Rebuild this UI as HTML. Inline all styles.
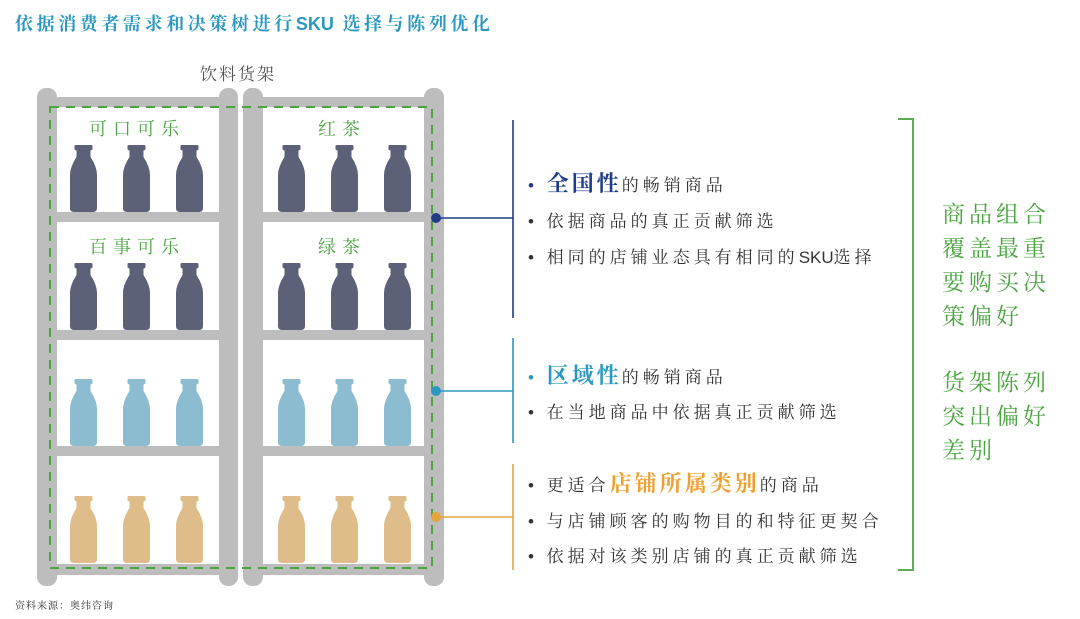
<!DOCTYPE html>
<html><head><meta charset="utf-8"><style>
html,body{margin:0;padding:0;background:#fff;}
body{width:1080px;height:619px;position:relative;overflow:hidden;font-family:"Liberation Sans","Noto Serif CJK SC",serif;}
.t{position:absolute;white-space:nowrap;}
.ln{position:absolute;left:528px;font-size:17px;letter-spacing:4px;color:#333;font-family:"Liberation Sans","Noto Serif CJK SC",serif;line-height:20px;}
.ln b{font-size:22px;letter-spacing:3px;}
.ls0{letter-spacing:0;}
.g{position:absolute;left:942px;font-size:23px;letter-spacing:4px;color:#4aa540;line-height:34px;font-family:"Noto Serif CJK SC",serif;}
.sl{position:absolute;font-size:18px;color:#4aa540;letter-spacing:6px;font-family:'Noto Serif CJK SC',serif;white-space:nowrap;}
</style></head><body>
<div class="t" style="left:15px;top:10px;font-size:18px;font-weight:bold;color:#2a98c0;letter-spacing:3.6px;font-family:'Liberation Sans','Noto Serif CJK SC',serif;">依据消费者需求和决策树进行<span class="ls0">SKU</span> 选择与陈列优化</div>
<div class="t" style="left:200px;top:60px;font-size:17px;color:#555;letter-spacing:2px;font-family:'Noto Serif CJK SC',serif;">饮料货架</div>
<svg width="1080" height="619" style="position:absolute;left:0;top:0">
<defs><path id="b" d="M4.5,1 Q4.5,0 6,0 L21,0 Q22.5,0 22.5,1 L22.5,4 Q22.5,5 20.5,5.5 L20.5,12 Q27,22 27,30 L27,63 Q27,67 23,67 L4,67 Q0,67 0,63 L0,30 Q0,22 6.5,12 L6.5,5.5 Q4.5,5 4.5,4 Z"/></defs>
<g fill="#bdbdbd">
<rect x="37" y="88" width="20" height="498" rx="9"/>
<rect x="219" y="88" width="19" height="498" rx="9"/>
<rect x="243" y="88" width="20" height="498" rx="9"/>
<rect x="424" y="88" width="20" height="498" rx="9"/>
<rect x="37" y="97" width="201" height="10"/><rect x="243" y="97" width="201" height="10"/>
<rect x="37" y="212" width="201" height="10"/><rect x="243" y="212" width="201" height="10"/>
<rect x="37" y="330" width="201" height="10"/><rect x="243" y="330" width="201" height="10"/>
<rect x="37" y="446" width="201" height="10"/><rect x="243" y="446" width="201" height="10"/>
<rect x="37" y="564" width="201" height="11"/><rect x="243" y="564" width="201" height="11"/>
</g>
<g fill="#5d6178">
<use href="#b" x="70" y="145"/><use href="#b" x="123" y="145"/><use href="#b" x="176" y="145"/>
<use href="#b" x="278" y="145"/><use href="#b" x="331" y="145"/><use href="#b" x="384" y="145"/>
<use href="#b" x="70" y="263"/><use href="#b" x="123" y="263"/><use href="#b" x="176" y="263"/>
<use href="#b" x="278" y="263"/><use href="#b" x="331" y="263"/><use href="#b" x="384" y="263"/>
</g>
<g fill="#8bbccf">
<use href="#b" x="70" y="379"/><use href="#b" x="123" y="379"/><use href="#b" x="176" y="379"/>
<use href="#b" x="278" y="379"/><use href="#b" x="331" y="379"/><use href="#b" x="384" y="379"/>
</g>
<g fill="#dfbd8a">
<use href="#b" x="70" y="496"/><use href="#b" x="123" y="496"/><use href="#b" x="176" y="496"/>
<use href="#b" x="278" y="496"/><use href="#b" x="331" y="496"/><use href="#b" x="384" y="496"/>
</g>
<rect x="50" y="107" width="382" height="461" fill="none" stroke="#4aa540" stroke-width="2" stroke-dasharray="9,7"/>
<g stroke-width="1.6" fill="none">
<path d="M436,218 H513 M513,120 V318" stroke="#1f3c88"/>
<path d="M436,391 H513 M513,338 V443" stroke="#2a98c0"/>
<path d="M436,517 H513 M513,464 V570" stroke="#e8a33a"/>
<path d="M898,119 H913 V570 H898" stroke="#5aad55" stroke-width="2"/>
</g>
<circle cx="436" cy="218" r="5" fill="#1f3c88"/>
<circle cx="436" cy="391" r="5" fill="#2a98c0"/>
<circle cx="436" cy="517" r="5" fill="#e8a33a"/>
</svg>
<div class="sl" style="left:89px;top:115px;">可口可乐</div>
<div class="sl" style="left:318px;top:115px;">红茶</div>
<div class="sl" style="left:89px;top:233px;">百事可乐</div>
<div class="sl" style="left:318px;top:233px;">绿茶</div>

<div class="ln" style="top:174px;"><span style="color:#1f3c88">•</span> <b style="color:#1f3c88">全国性</b>的畅销商品</div>
<div class="ln" style="top:212px;">• 依据商品的真正贡献筛选</div>
<div class="ln" style="top:248px;">• 相同的店铺业态具有相同的<span class="ls0">SKU</span>选择</div>
<div class="ln" style="top:366px;"><span style="color:#2a98c0">•</span> <b style="color:#2a98c0">区域性</b>的畅销商品</div>
<div class="ln" style="top:403px;">• 在当地商品中依据真正贡献筛选</div>
<div class="ln" style="top:474px;">• 更适合<b style="color:#f0a030">店铺所属类别</b>的商品</div>
<div class="ln" style="top:512px;">• 与店铺顾客的购物目的和特征更契合</div>
<div class="ln" style="top:547px;">• 依据对该类别店铺的真正贡献筛选</div>

<div class="g" style="top:196px;">商品组合<br>覆盖最重<br>要购买决<br>策偏好</div>
<div class="g" style="top:364px;">货架陈列<br>突出偏好<br>差别</div>
<div class="t" style="left:15px;top:597px;font-size:10px;color:#333;letter-spacing:1px;font-family:'Noto Serif CJK SC',serif;">资料来源：奥纬咨询</div>
</body></html>
